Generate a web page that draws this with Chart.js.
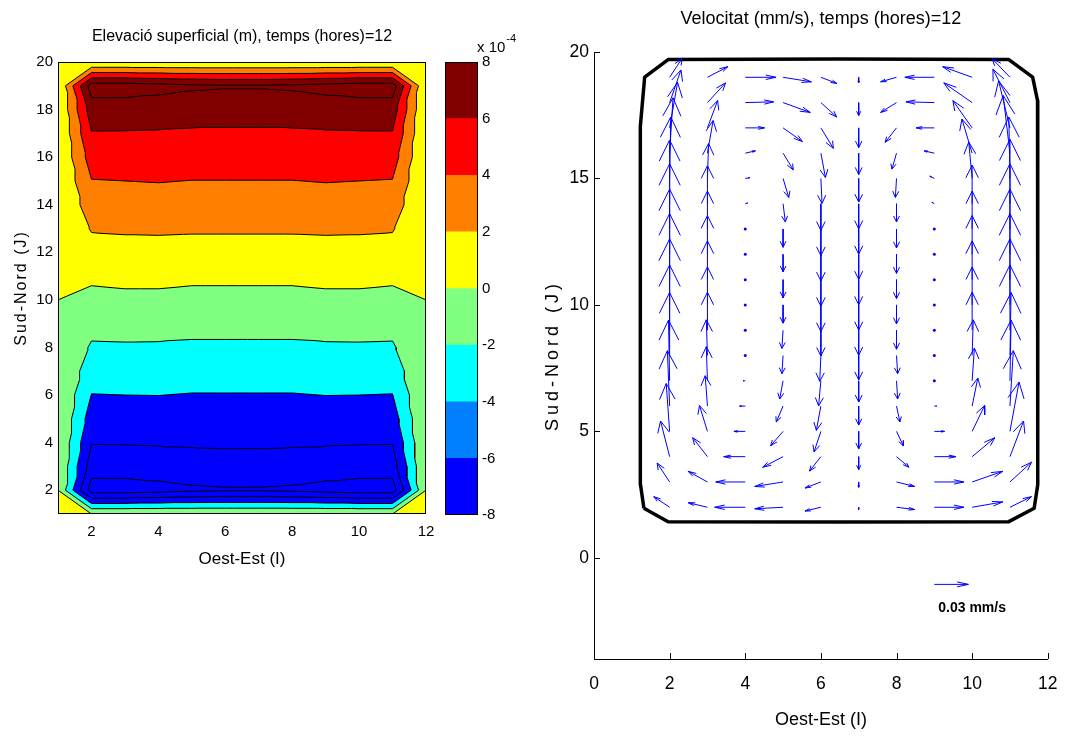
<!DOCTYPE html>
<html><head><meta charset="utf-8">
<script src="https://cdn.jsdelivr.net/npm/chart.js@4.4.1/dist/chart.umd.min.js"></script>
<style>
html,body{margin:0;padding:0;background:#fff;}
#wrap{position:relative;width:1072px;height:738px;overflow:hidden;background:#fff;}
#wrap canvas{position:absolute;left:0;top:0;}
</style></head><body>
<div id="wrap">
<canvas id="cContour" width="1072" height="738"></canvas>
<canvas id="cBar" width="1072" height="738"></canvas>
<canvas id="cQuiver" width="1072" height="738"></canvas>
</div>
<script>
// ---------- DATA: surface elevation (units 1e-4 m) ----------
const gridI = [1,2,3,4,5,6,7,8,9,10,11,12];
const gridJ = [1,2,3,4,5,6,7,8,9,10,11,12,13,14,15,16,17,18,19,20];
// rows J=1..20, columns I=1..12
const elevRows = [
 [0,0,0,0,0,0,0,0,0,0,0,0],
 [0,-9.0,-9.0,-8.7,-8.35,-8.2,-8.2,-8.35,-8.7,-9.0,-9.0,0],
 [0,-7.0,-7.0,-6.9,-6.7,-6.6,-6.6,-6.7,-6.9,-7.0,-7.0,0],
 [0,-5.92,-5.9,-5.85,-5.82,-5.8,-5.8,-5.82,-5.85,-5.9,-5.92,0],
 [0,-4.95,-4.97,-4.95,-4.95,-4.95,-4.95,-4.95,-4.95,-4.97,-4.95,0],
 [0,-4.05,-4.0,-3.98,-4.08,-4.08,-4.08,-4.08,-3.98,-4.0,-4.05,0],
 [0,-3.1,-3.1,-3.12,-3.15,-3.15,-3.15,-3.15,-3.12,-3.1,-3.1,0],
 [0,-2.24,-2.2,-2.22,-2.28,-2.28,-2.28,-2.28,-2.22,-2.2,-2.24,0],
 [0,-1.35,-1.32,-1.32,-1.45,-1.45,-1.45,-1.45,-1.32,-1.32,-1.35,0],
 [0,-0.55,-0.42,-0.42,-0.55,-0.55,-0.55,-0.55,-0.42,-0.42,-0.55,0],
 [0,0.37,0.48,0.48,0.37,0.37,0.37,0.37,0.48,0.48,0.37,0],
 [0,1.25,1.38,1.38,1.35,1.35,1.35,1.35,1.38,1.38,1.25,0],
 [0,2.15,2.22,2.25,2.2,2.2,2.2,2.2,2.25,2.22,2.15,0],
 [0,3.05,3.1,3.15,3.1,3.1,3.1,3.1,3.15,3.1,3.05,0],
 [0,3.93,4.0,4.07,3.97,3.97,3.97,3.97,4.07,4.0,3.93,0],
 [0,4.9,4.95,4.95,4.9,4.9,4.9,4.9,4.95,4.95,4.9,0],
 [0,5.89,5.88,5.85,5.8,5.8,5.8,5.8,5.85,5.88,5.89,0],
 [0,7.0,7.0,6.9,6.7,6.6,6.6,6.7,6.9,7.0,7.0,0],
 [0,9.0,9.0,8.7,8.35,8.2,8.2,8.35,8.7,9.0,9.0,0],
 [0,0,0,0,0,0,0,0,0,0,0,0]
];
const lineLevels = [-8,-6,-4,-2,0,2,4,6,8];
const bandLevels = [-4,-2,0,2,4,6];
const bandColors = ['#00ffff','#80ff80','#ffff00','#ff8000','#ff0000','#800000'];
const bandBase = '#0000ff';
const cbEdges = [-8,-6,-4,-2,0,2,4,6,8];
const cbColors = ['#0000ff','#0080ff','#00ffff','#80ff80','#ffff00','#ff8000','#ff0000','#800000'];
const cbTicks = [-8,-6,-4,-2,0,2,4,6,8];
const leftXTicks = [2,4,6,8,10,12];
const leftYTicks = [2,4,6,8,10,12,14,16,18,20];

// ---------- DATA: velocity (units 1e-3 mm/s) ----------
const quivI = [2,3,4,5,6,7,8,9,10,11];
const quivJ = [2,3,4,5,6,7,8,9,10,11,12,13,14,15,16,17,18,19];
const uRows = [
 [-14,-17,-27,-25,-14,0,16,26,27,19],
 [-11,-17,-26,-25,-14,0,16,26,27,19],
 [-8,-13,-19,-18,-10,0,11,19,20,12],
 [-3,-7,-10,-11,-6,0,6,9,11,8],
 [-2,-2,-5,-6,-4,0,3,2,5,3],
 [-1,-1,-2,-3,-2,0,1,0,2,1],
 [0,-1,-1,-1,-1,0,1,0,1,1],
 [0,0,0,-1,0,0,0,0,0,0],
 [0,0,0,0,0,0,0,0,0,0],
 [0,0,0,0,0,0,0,0,0,0],
 [0,0,0,0,0,0,0,0,0,0],
 [0,0,1,0,0,0,0,-1,0,0],
 [0,0,2,2,0,0,0,-2,0,0],
 [1,1,4,5,1,0,-1,-4,-3,-1],
 [3,5,9,9,4,0,-4,-9,-9,-6],
 [7,9,17,17,11,0,-10,-16,-17,-10],
 [10,16,25,24,14,0,-14,-25,-25,-15],
 [11,18,27,25,14,0,-14,-26,-26,-16]
];
const vRows = [
 [14,6,0,-2,-5,-3,-3,0,7,14],
 [25,14,0,-6,-8,-7,-6,0,14,26],
 [47,25,0,-14,-19,-17,-14,0,25,47],
 [63,34,0,-19,-27,-23,-19,0,34,65],
 [73,40,0,-21,-32,-25,-21,0,37,73],
 [80,45,0,-24,-33,-28,-24,0,43,80],
 [83,47,0,-24,-34,-32,-24,0,47,83],
 [86,50,0,-24,-34,-33,-25,0,50,86],
 [87,50,0,-24,-35,-33,-25,0,50,87],
 [87,51,0,-24,-35,-33,-25,0,51,87],
 [86,51,0,-23,-35,-33,-25,0,51,86],
 [86,50,1,-24,-35,-33,-25,1,50,86],
 [84,50,1,-24,-35,-33,-24,2,51,85],
 [81,46,1,-25,-33,-31,-25,3,48,81],
 [73,43,3,-22,-32,-28,-21,3,45,76],
 [60,36,0,-18,-27,-26,-19,0,36,62],
 [43,26,1,-13,-19,-17,-13,1,26,44],
 [25,14,0,-6,-8,-7,-6,0,14,25]
];
const refArrow = {i: 9, j: -1.05, u: 30, v: 0};      // 0.03 mm/s
const refLabel = '0.03 mm/s';
const refLabelPos = [10.0, -2.0];
const arrowScale = 0.03;                              // grid units per 1e-3 mm/s
const coastI = [1.32,1.23,1.22,1.23,1.34,1.96,6.5,10.97,11.6,11.73,11.74,11.73,11.64,10.97,6.5,1.96,1.32];
const coastJ = [1.96,2.89,10,17.05,19.01,19.7,19.72,19.7,19.01,18.08,10,2.89,1.96,1.43,1.42,1.43,1.96];
const rightXTicks = [0,2,4,6,8,10,12];
const rightYTicks = [0,5,10,15,20];

// ---------- build contour geometry (linear interpolation on triangles) ----------
const tris = [];
for (let j = 0; j < gridJ.length - 1; j++) {
  for (let i = 0; i < gridI.length - 1; i++) {
    const p00 = [gridI[i], gridJ[j], elevRows[j][i]];
    const p10 = [gridI[i+1], gridJ[j], elevRows[j][i+1]];
    const p01 = [gridI[i], gridJ[j+1], elevRows[j+1][i]];
    const p11 = [gridI[i+1], gridJ[j+1], elevRows[j+1][i+1]];
    const c = [p00, p10, p01, p11];
    let m = 0;
    for (let k = 1; k < 4; k++) if (Math.abs(c[k][2]) > Math.abs(c[m][2])) m = k;
    if (m === 0 || m === 3) { tris.push([p00,p10,p01],[p10,p11,p01]); }
    else { tris.push([p00,p10,p11],[p00,p11,p01]); }
  }
}
function clipTri(tri, L) {
  const out = [];
  for (let k = 0; k < 3; k++) {
    const a = tri[k], b = tri[(k+1)%3];
    const ina = a[2] >= L, inb = b[2] >= L;
    if (ina) out.push(a);
    if (ina !== inb) {
      const t = (L - a[2]) / (b[2] - a[2]);
      out.push([a[0] + t*(b[0]-a[0]), a[1] + t*(b[1]-a[1]), L]);
    }
  }
  return out;
}
const contourLinePts = [];
lineLevels.forEach(L => {
  tris.forEach(tri => {
    const pts = [];
    for (let k = 0; k < 3; k++) {
      const a = tri[k], b = tri[(k+1)%3];
      const ina = a[2] >= L, inb = b[2] >= L;
      if (ina !== inb) {
        const t = (L - a[2]) / (b[2] - a[2]);
        pts.push({x: a[0] + t*(b[0]-a[0]), y: a[1] + t*(b[1]-a[1])});
      }
    }
    if (pts.length === 2 && Math.hypot(pts[0].x-pts[1].x, pts[0].y-pts[1].y) > 1e-6) {
      contourLinePts.push(pts[0], pts[1], {x: null, y: null});
    }
  });
});

// ---------- build quiver geometry ----------
const arrowPts = [];
const dotPts = [];
function addArrow(x, y, u, v) {
  const du = u * arrowScale, dv = v * arrowScale;
  if (Math.hypot(du, dv) < 0.05) { dotPts.push({x, y}); return; }
  const tx = x + du, ty = y + dv, a = 0.33, b = 0.33;
  arrowPts.push({x, y}, {x: tx, y: ty}, {x: null, y: null});
  arrowPts.push({x: tx - a*(du + b*dv), y: ty - a*(dv - b*du)}, {x: tx, y: ty},
                {x: tx - a*(du - b*dv), y: ty - a*(dv + b*du)}, {x: null, y: null});
}
quivJ.forEach((J, r) => quivI.forEach((I, c) => addArrow(I, J, uRows[r][c], vRows[r][c])));
addArrow(refArrow.i, refArrow.j, refArrow.u, refArrow.v);
const coastPts = coastI.map((x, k) => ({x, y: coastJ[k]}));

// ---------- helpers ----------
Chart.defaults.font.family = "'Liberation Sans', Arial, Helvetica, sans-serif";
Chart.defaults.color = '#000';
function spacedTitle(scale, sp) {
  if (scale._spPatched) return;
  const orig = scale.drawTitle;
  scale.drawTitle = function () {
    const c = this.ctx; c.save();
    try { c.letterSpacing = sp; } catch (e) {}
    orig.call(this); c.restore();
  };
  scale._spPatched = true;
}
const setTicks = arr => scale => { scale.ticks = arr.map(v => ({value: v})); };

// ---------- chart 1 : filled contour ----------
const contourFill = {
  id: 'contourFill',
  beforeDatasetsDraw(chart) {
    const {ctx, chartArea: a, scales: {x, y}} = chart;
    ctx.save();
    ctx.beginPath(); ctx.rect(a.left, a.top, a.width, a.height); ctx.clip();
    ctx.fillStyle = bandBase;
    const x0 = x.getPixelForValue(gridI[0]), x1 = x.getPixelForValue(gridI[gridI.length-1]);
    const y0 = y.getPixelForValue(gridJ[gridJ.length-1]), y1 = y.getPixelForValue(gridJ[0]);
    ctx.fillRect(x0, y0, x1 - x0, y1 - y0);
    bandLevels.forEach((L, k) => {
      ctx.beginPath();
      tris.forEach(tri => {
        const poly = clipTri(tri, L);
        if (poly.length < 3) return;
        ctx.moveTo(x.getPixelForValue(poly[0][0]), y.getPixelForValue(poly[0][1]));
        for (let n = 1; n < poly.length; n++) ctx.lineTo(x.getPixelForValue(poly[n][0]), y.getPixelForValue(poly[n][1]));
        ctx.closePath();
      });
      ctx.fillStyle = bandColors[k];
      ctx.fill('nonzero');
    });
    ctx.restore();
  },
  afterDatasetsDraw(chart) {
    const {ctx, chartArea: a} = chart;
    ctx.save(); ctx.strokeStyle = '#000'; ctx.lineWidth = 1;
    ctx.strokeRect(Math.round(a.left) + 0.5, Math.round(a.top) + 0.5, Math.round(a.width) - 1, Math.round(a.height) - 1);
    ctx.restore();
  }
};
new Chart(document.getElementById('cContour'), {
  type: 'scatter',
  data: {datasets: [{data: contourLinePts, showLine: true, borderColor: '#000', borderWidth: 1, pointRadius: 0, fill: false}]},
  options: {
    responsive: false, animation: false, events: [],
    layout: {padding: {left: 12, right: 646, top: 26.9, bottom: 168.4}},
    plugins: {
      legend: {display: false}, tooltip: {enabled: false},
      title: {display: true, text: 'Elevació superficial (m), temps (hores)=12', fullSize: false,
              font: {size: 16, weight: 'normal'}, color: '#000', padding: {top: 0, bottom: 15.9}}
    },
    scales: {
      x: {type: 'linear', min: 1, max: 12, afterBuildTicks: setTicks(leftXTicks),
          ticks: {font: {size: 15}, padding: 8.4, autoSkip: false, maxRotation: 0},
          grid: {display: false, drawTicks: false}, border: {display: false},
          title: {display: true, text: 'Oest-Est (I)', font: {size: 17}, padding: 0},
          afterFit: s => { s.height = 55.6; }},
      y: {type: 'linear', min: 1, max: 20, afterBuildTicks: setTicks(leftYTicks),
          ticks: {font: {size: 15}, padding: 5, autoSkip: false},
          grid: {display: false, drawTicks: false}, border: {display: false},
          title: {display: true, text: 'Sud-Nord (J)', font: {size: 16}, padding: 0},
          afterFit: s => { s.width = 46; spacedTitle(s, '2px'); }}
    }
  },
  plugins: [contourFill]
});

// ---------- chart 2 : colour bar ----------
const cbDecor = {
  id: 'cbDecor',
  afterDraw(chart) {
    const {ctx, chartArea: a} = chart;
    ctx.save(); ctx.strokeStyle = '#000'; ctx.lineWidth = 1;
    ctx.strokeRect(Math.round(a.left) + 0.5, Math.round(a.top) + 0.5, Math.round(a.width) - 1, Math.round(a.height) - 1);
    ctx.fillStyle = '#000'; ctx.textBaseline = 'alphabetic'; ctx.textAlign = 'left';
    ctx.font = "15px 'Liberation Sans', Arial, sans-serif";
    const base = 'x 10';
    ctx.fillText(base, a.right - 1, a.top - 10.5);
    const w = ctx.measureText(base).width;
    ctx.font = "11px 'Liberation Sans', Arial, sans-serif";
    ctx.fillText('-4', a.right - 1 + w + 1, a.top - 20);
    ctx.restore();
  }
};
new Chart(document.getElementById('cBar'), {
  type: 'bar',
  data: {labels: ['cb'], datasets: cbColors.map((c, k) => ({
    data: [[cbEdges[k], cbEdges[k+1]]], backgroundColor: c, borderWidth: 0,
    barPercentage: 1, categoryPercentage: 1, grouped: false}))},
  options: {
    responsive: false, animation: false, events: [],
    layout: {padding: {left: 445, right: 554, top: 62, bottom: 223}},
    plugins: {legend: {display: false}, tooltip: {enabled: false}},
    scales: {
      x: {display: false},
      y: {position: 'right', min: -8, max: 8, afterBuildTicks: setTicks(cbTicks),
          ticks: {font: {size: 15}, padding: 4, autoSkip: false},
          grid: {display: false, drawTicks: false}, border: {display: false},
          afterFit: s => { s.width = 40; }}
    }
  },
  plugins: [cbDecor]
});

// ---------- chart 3 : velocity quiver ----------
const quiverDecor = {
  id: 'quiverDecor',
  afterDraw(chart) {
    const {ctx, chartArea: a, scales: {x, y}} = chart;
    ctx.save(); ctx.strokeStyle = '#000'; ctx.lineWidth = 1; ctx.beginPath();
    rightXTicks.forEach(v => { const px = Math.round(x.getPixelForValue(v)) + 0.5; ctx.moveTo(px, a.bottom); ctx.lineTo(px, a.bottom - 6); });
    rightYTicks.forEach(v => { const py = Math.round(y.getPixelForValue(v)) + 0.5; ctx.moveTo(a.left, py); ctx.lineTo(a.left + 6, py); });
    ctx.stroke();
    ctx.fillStyle = '#000'; ctx.textAlign = 'center'; ctx.textBaseline = 'middle';
    ctx.font = "bold 14px 'Liberation Sans', Arial, sans-serif";
    ctx.fillText(refLabel, x.getPixelForValue(refLabelPos[0]), y.getPixelForValue(refLabelPos[1]));
    ctx.restore();
  }
};
new Chart(document.getElementById('cQuiver'), {
  type: 'scatter',
  data: {datasets: [
    {data: arrowPts, showLine: true, borderColor: '#0000ff', borderWidth: 1, pointRadius: 0, fill: false},
    {data: dotPts, showLine: false, pointRadius: 1.5, backgroundColor: '#0000ff', borderWidth: 0},
    {data: coastPts, showLine: true, borderColor: '#000', borderWidth: 3.5, pointRadius: 0, fill: false, borderJoinStyle: 'round'}
  ]},
  options: {
    responsive: false, animation: false, events: [],
    layout: {padding: {left: 542, right: 18, top: 8.2, bottom: 7.2}},
    plugins: {
      legend: {display: false}, tooltip: {enabled: false},
      title: {display: true, text: 'Velocitat (mm/s), temps (hores)=12', fullSize: false,
              font: {size: 18, weight: 'normal'}, color: '#000', padding: {top: 0, bottom: 22.2}}
    },
    scales: {
      x: {type: 'linear', min: 0, max: 12, afterBuildTicks: setTicks(rightXTicks),
          ticks: {font: {size: 17.5}, padding: 14.5, autoSkip: false, maxRotation: 0},
          grid: {display: false, drawTicks: false}, border: {display: true, color: '#000', width: 1},
          title: {display: true, text: 'Oest-Est (I)', font: {size: 18}, padding: 0},
          afterFit: s => { s.height = 71.8; }},
      y: {type: 'linear', min: -4, max: 20, afterBuildTicks: setTicks(rightYTicks),
          ticks: {font: {size: 17.5}, padding: 5, autoSkip: false},
          grid: {display: false, drawTicks: false}, border: {display: true, color: '#000', width: 1},
          title: {display: true, text: 'Sud-Nord (J)', font: {size: 18}, padding: 0},
          afterFit: s => { s.width = 52; spacedTitle(s, '4px'); }}
    }
  },
  plugins: [quiverDecor]
});
</script>
</body></html>
